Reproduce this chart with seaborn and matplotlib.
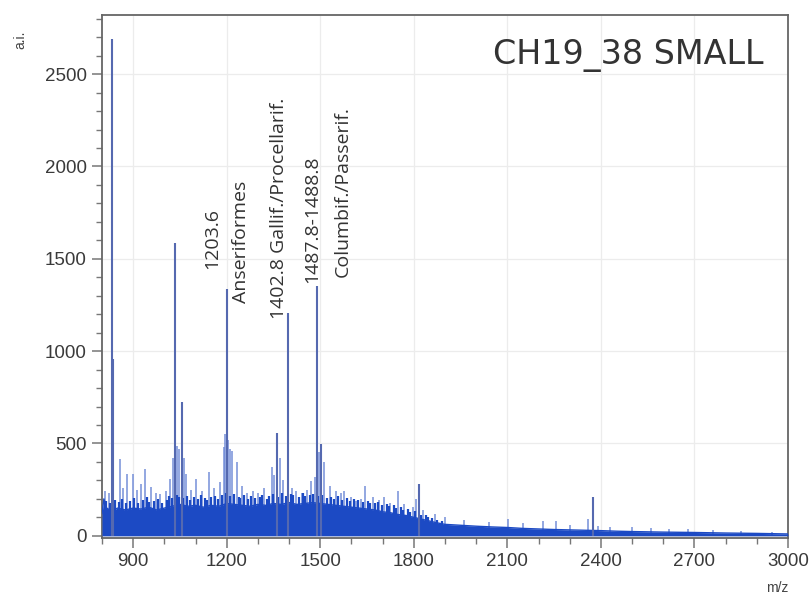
import numpy as np
import pandas as pd
import matplotlib
matplotlib.use("Agg")
import matplotlib.pyplot as plt
from matplotlib.ticker import MultipleLocator
import seaborn as sns

# baseline (dense noise) envelope
env_mz = [800, 806, 815, 830, 850, 875, 900, 925, 950, 975, 1000, 1025, 1050, 1075,
          1100, 1125, 1150, 1175, 1200, 1225, 1250, 1275, 1300, 1325, 1350, 1375,
          1400, 1425, 1450, 1475, 1500, 1525, 1550, 1575, 1600, 1625, 1650, 1675,
          1700, 1725, 1750, 1775, 1800, 1825, 1850, 1875, 1900, 1950, 2000, 2050,
          2100, 2150, 2200, 2250, 2300, 2350, 2400, 2450, 2500, 2600, 2700, 2800,
          2900, 3000]
env_int = [120, 200, 150, 135, 150, 140, 150, 145, 155, 140, 150, 160, 170, 160,
           165, 155, 165, 160, 175, 170, 165, 160, 170, 165, 175, 170,
           180, 170, 175, 180, 175, 170, 165, 160, 155, 150, 145, 140,
           130, 125, 115, 110, 100, 90, 80, 70, 62, 57, 52, 48,
           45, 40, 37, 34, 32, 30, 28, 25, 23, 20, 18, 15,
           13, 10]

# jagged top of the dense noise band
noise_mz = [812, 826, 841, 853, 864, 877, 889, 903, 916, 931, 944, 952, 967, 979,
            994, 1008, 1014, 1026, 1039, 1047, 1061, 1073, 1082, 1094, 1108, 1116,
            1129, 1137, 1151, 1163, 1171, 1186, 1198, 1209, 1223, 1238, 1243, 1256,
            1269, 1278, 1291, 1307, 1314, 1328, 1337, 1349, 1366, 1376, 1389, 1405,
            1414, 1431, 1446, 1452, 1466, 1478, 1494, 1507, 1521, 1536, 1544, 1558,
            1571, 1587, 1594, 1609, 1622, 1637, 1653, 1661, 1677, 1684, 1698, 1713,
            1721, 1737, 1742, 1758, 1766, 1781, 1789, 1803, 1822, 1838, 1846, 1857,
            1874, 1889]
noise_int = [190, 180, 195, 185, 200, 175, 190, 205, 180, 195, 210, 185, 190, 200,
             180, 195, 215, 205, 220, 210, 205, 215, 195, 210, 200, 220,
             205, 195, 210, 215, 200, 220, 230, 215, 225, 210, 205, 220,
             200, 215, 205, 210, 220, 200, 215, 225, 210, 230, 215, 225,
             220, 210, 230, 215, 220, 225, 215, 220, 205, 210, 200, 215,
             195, 205, 190, 200, 195, 185, 190, 180, 175, 185, 165, 170,
             160, 165, 150, 155, 140, 145, 130, 135, 115, 110, 100, 95,
             85, 78]

# strong peaks
peak_mz = [833, 835, 1035, 1056, 1200, 1361, 1398, 1490, 1503, 1816, 2374]
peak_int = [2690, 960, 1585, 723, 1335, 555, 1205, 1355, 497, 280, 210]

# smaller spikes above the noise
spike_mz = [810, 822, 858, 868, 880, 900, 912, 926, 939, 958, 972, 987, 1005, 1019,
            1028, 1042, 1048, 1064, 1068, 1085, 1100, 1120, 1142, 1160, 1178, 1190,
            1195, 1205, 1212, 1218, 1232, 1248, 1265, 1285, 1300, 1320, 1345, 1352,
            1370, 1382, 1410, 1422, 1440, 1458, 1471, 1482, 1497, 1513, 1530, 1552,
            1565, 1577, 1600, 1616, 1630, 1645, 1668, 1690, 1706, 1725, 1748, 1770,
            1797, 1808, 1830, 1868, 1900, 1960, 2040, 2103, 2150, 2213, 2255, 2300,
            2358, 2390, 2430, 2500, 2560, 2620, 2680, 2760, 2850, 2950]
spike_int = [240, 230, 415, 260, 335, 335, 250, 280, 362, 265, 230, 227, 240, 307,
             420, 486, 470, 420, 335, 250, 308, 240, 345, 260, 290, 480,
             550, 520, 470, 460, 400, 270, 230, 245, 230, 260, 372, 330,
             420, 300, 260, 243, 230, 250, 297, 320, 453, 400, 270, 243,
             230, 243, 210, 190, 200, 270, 210, 195, 210, 180, 243, 170,
             157, 200, 140, 119, 100, 85, 75, 92, 70, 81, 81, 60,
             92, 55, 50, 45, 40, 35, 35, 30, 25, 20]

labels = ["1203.6", "Anseriformes", "1402.8 Gallif./Procellarif.",
          "1487.8-1488.8", "Columbif./Passerif."]
label_mz = [1152, 1245, 1368, 1474, 1571]
label_int = [1442, 1263, 1172, 1371, 1404]

sns.set_theme(style="whitegrid")
plt.rcParams['font.family'] = ['Liberation Sans', 'DejaVu Sans']

fig = plt.figure(figsize=(8.12, 6.0), dpi=100)
ax = fig.add_axes([0.1256, 0.1033, 0.8448, 0.8717])

fill_col = "#1c4ac4"
env = pd.DataFrame({"mz": env_mz, "intensity": env_int})
ax.fill_between(env["mz"], 0, env["intensity"], color=fill_col, lw=0, zorder=3)
sns.lineplot(data=env, x="mz", y="intensity", color=fill_col, lw=1.0, ax=ax, zorder=3)

ax.vlines(spike_mz, 0, spike_int, color="#6a86d6", lw=1.2, alpha=0.85, zorder=2)
ax.vlines(noise_mz, 0, noise_int, color=fill_col, lw=1.6, zorder=3)
ax.vlines(peak_mz, 0, peak_int, color="#5569b0", lw=1.5, zorder=4)

for t, x, y in zip(labels, label_mz, label_int):
    ax.text(x, y, t, rotation=90, ha="center", va="bottom", fontsize=14,
            color="#333333", family=["Open Sans", "DejaVu Sans"], zorder=5)

ax.text(0.965, 0.955, "CH19_38 SMALL", transform=ax.transAxes, ha="right", va="top",
        fontsize=24, color="#333333", family=["DejaVu Sans"], zorder=5)

ax.set_xlim(800, 3000)
ax.set_ylim(-12, 2820)
ax.xaxis.set_major_locator(MultipleLocator(300))
ax.xaxis.set_minor_locator(MultipleLocator(100))
ax.yaxis.set_major_locator(MultipleLocator(500))
ax.yaxis.set_minor_locator(MultipleLocator(100))
ax.set_xticks(np.arange(900, 3001, 300))

ax.grid(True, which="major", color="#ececec", lw=0.9)
ax.grid(False, which="minor")
ax.set_facecolor("white")
for s in ax.spines.values():
    s.set_visible(True)
    s.set_color("#666666")
    s.set_linewidth(1.3)

ax.tick_params(axis="both", which="major", direction="out", length=7, width=1.1,
               color="#777777", labelsize=13.5, labelcolor="#3a3a3a", pad=4,
               bottom=True, left=True)
ax.tick_params(axis="both", which="minor", direction="out", length=4, width=1.0,
               color="#777777", bottom=True, left=True)
ax.set_xlabel("")
ax.set_ylabel("")

fig.text(20 / 812, 1 - 40 / 600, "a.i.", rotation=90, ha="center", va="center",
         fontsize=10, color="#444444")
fig.text(777 / 812, 1 - 588 / 600, "m/z", ha="center", va="center",
         fontsize=10, color="#444444")

fig.savefig("out.png", dpi=100)
